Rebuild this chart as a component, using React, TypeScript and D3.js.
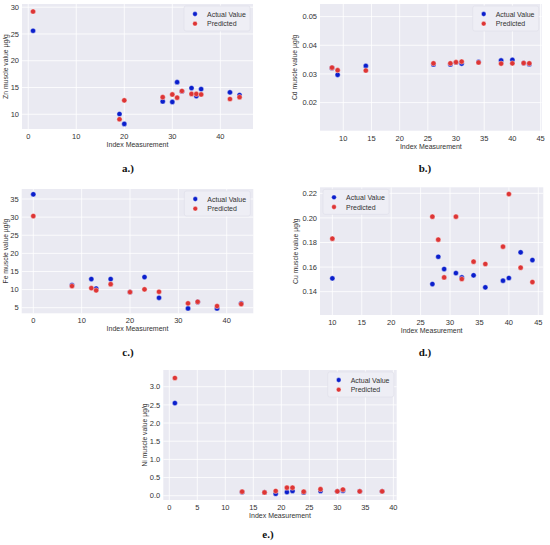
import * as d3 from "d3"

// index measurement + actual / predicted values per metal
const znIndex = [1, 19, 20, 28, 30, 31, 32, 34, 35, 36, 42, 44]
const znActual = [25.6, 10.05, 8.2, 12.4, 12.3, 16.0, 14.3, 14.9, 13.4, 14.7, 14.1, 13.6]
const znPredicted = [29.2, 9.07, 12.6, 13.2, 13.7, 13.1, 14.35, 13.8, 13.8, 13.7, 12.85, 13.2]

const cdIndex = [8, 9, 14, 26, 29, 30, 31, 34, 38, 40, 42, 43]
const cdActual = [0.0321, 0.0297, 0.0328, 0.0333, 0.0333, 0.034, 0.0336, 0.0342, 0.0347, 0.0349, 0.0338, 0.0334]
const cdPredicted = [0.0322, 0.0313, 0.0312, 0.0337, 0.0337, 0.0341, 0.0343, 0.034, 0.0336, 0.0337, 0.0338, 0.0337]

const feIndex = [0, 8, 12, 13, 16, 20, 23, 26, 32, 34, 38, 43]
const feActual = [36.3, 11.24, 12.9, 10.3, 12.9, 9.3, 13.45, 7.73, 4.8, 6.6, 4.8, 6.2]
const fePredicted = [30.3, 10.97, 10.4, 9.78, 11.5, 9.3, 10.06, 9.39, 6.2, 6.63, 5.44, 6.0]

const cuIndex = [10, 27, 28, 29, 31, 32, 34, 36, 39, 40, 42, 44]
const cuActual = [0.1508, 0.1462, 0.1684, 0.1584, 0.1551, 0.1516, 0.1533, 0.1435, 0.1489, 0.1511, 0.172, 0.1657]
const cuPredicted = [0.1831, 0.201, 0.1823, 0.1516, 0.201, 0.1503, 0.1644, 0.1625, 0.1766, 0.2194, 0.1595, 0.1478]

const niIndex = [1, 13, 17, 19, 21, 22, 24, 27, 30, 31, 34, 38]
const niActual = [2.55, 0.1, 0.09, 0.055, 0.1, 0.13, 0.09, 0.13, 0.12, 0.14, 0.12, 0.12]
const niPredicted = [3.24, 0.11, 0.09, 0.13, 0.22, 0.22, 0.11, 0.18, 0.12, 0.17, 0.12, 0.12]

const seriesNames = ["Actual Value", "Predicted"]
const colors = ["#0b1fcc", "#dd3535"]

const font = "'Liberation Sans', Arial, sans-serif"

interface PanelProps {
  left: number
  top: number
  right: number
  bottom: number
  xDomain: [number, number]
  yDomain: [number, number]
  xTicks: number[]
  yTicks: number[]
  yFormat: string
  yLabel: string
  yLabelX: number
  index: number[]
  actual: number[]
  predicted: number[]
  legendLeft?: boolean
  caption: string
  captionX: number
  captionY: number
}

function Panel(p: PanelProps) {
  const x = d3.scaleLinear().domain(p.xDomain).range([p.left, p.right])
  const y = d3.scaleLinear().domain(p.yDomain).range([p.bottom, p.top])
  const fmt = d3.format(p.yFormat)
  const cx = (p.left + p.right) / 2
  const cy = (p.top + p.bottom) / 2

  const lw = 66
  const lx = p.legendLeft ? p.left + 3 : p.right - lw - 3
  const ly = p.top + 2

  return (
    <g>
      <rect x={p.left} y={p.top} width={p.right - p.left} height={p.bottom - p.top} fill="#eaeaf2" />
      {p.xTicks.map(t => (
        <line key={"gx" + t} x1={x(t)} x2={x(t)} y1={p.top} y2={p.bottom} stroke="#fff" strokeWidth={0.8} />
      ))}
      {p.yTicks.map(t => (
        <line key={"gy" + t} x1={p.left} x2={p.right} y1={y(t)} y2={y(t)} stroke="#fff" strokeWidth={0.8} />
      ))}
      {p.xTicks.map(t => (
        <text key={"tx" + t} x={x(t)} y={p.bottom + 10} textAnchor="middle" fontSize={7.5} fill="#333" fontFamily={font}>
          {t}
        </text>
      ))}
      {p.yTicks.map(t => (
        <text key={"ty" + t} x={p.left - 3} y={y(t) + 2.7} textAnchor="end" fontSize={7.5} fill="#333" fontFamily={font}>
          {fmt(t)}
        </text>
      ))}
      <text x={cx} y={p.bottom + 18} textAnchor="middle" fontSize={7} fill="#333" fontFamily={font}>
        Index Measurement
      </text>
      <text
        transform={`translate(${p.yLabelX},${cy}) rotate(-90)`}
        textAnchor="middle"
        dominantBaseline="middle"
        fontSize={6.8}
        fill="#333"
        fontFamily={font}
      >
        {p.yLabel}
      </text>

      {p.index.map((d, i) => (
        <circle key={"a" + i} cx={x(d)} cy={y(p.actual[i])} r={2.6} fill={colors[0]} stroke="#fff" strokeWidth={0.4} />
      ))}
      {p.index.map((d, i) => (
        <circle key={"p" + i} cx={x(d)} cy={y(p.predicted[i])} r={2.6} fill={colors[1]} stroke="#fff" strokeWidth={0.4} />
      ))}

      <rect x={lx} y={ly} width={lw} height={25} rx={2} fill="#eeeef5" stroke="#dedee8" strokeWidth={0.6} />
      {seriesNames.map((name, i) => (
        <g key={name}>
          <circle cx={lx + 11} cy={ly + 8 + i * 9.7} r={2.4} fill={colors[i]} stroke="#fff" strokeWidth={0.4} />
          <text x={lx + 23} y={ly + 10.5 + i * 9.7} fontSize={7} fill="#333" fontFamily={font}>
            {name}
          </text>
        </g>
      ))}

      <text
        x={p.captionX}
        y={p.captionY}
        textAnchor="middle"
        fontSize={11}
        fontWeight="bold"
        fill="#111"
        fontFamily="'Liberation Serif', 'Times New Roman', serif"
      >
        {p.caption}
      </text>
    </g>
  )
}

export default function App() {
  return (
    <svg
      width={550}
      height={545}
      style={{ position: "absolute", left: 0, top: 0, background: "#fff" }}
    >
      <Panel
        left={22} top={4} right={253} bottom={129}
        xDomain={[-1.3, 46.8]} yDomain={[7.25, 30.6]}
        xTicks={[0, 10, 20, 30, 40]} yTicks={[10, 15, 20, 25, 30]} yFormat="d"
        yLabel="Zn muscle value µg/g" yLabelX={6}
        index={znIndex} actual={znActual} predicted={znPredicted}
        caption="a.)" captionX={128} captionY={172}
      />
      <Panel
        left={320} top={4} right={541.7} bottom={130.7}
        xDomain={[5.87, 45.2]} yDomain={[0.0102, 0.0544]}
        xTicks={[10, 15, 20, 25, 30, 35, 40, 45]} yTicks={[0.02, 0.03, 0.04, 0.05]} yFormat=".2f"
        yLabel="Cd muscle value µg/g" yLabelX={295}
        index={cdIndex} actual={cdActual} predicted={cdPredicted}
        caption="b.)" captionX={425} captionY={172}
      />
      <Panel
        left={21.7} top={189} right={253.3} bottom={313.3}
        xDomain={[-2.4, 45.5]} yDomain={[3.45, 37.76]}
        xTicks={[0, 10, 20, 30, 40]} yTicks={[5, 10, 15, 20, 25, 30, 35]} yFormat="d"
        yLabel="Fe muscle value µg/g" yLabelX={6}
        index={feIndex} actual={feActual} predicted={fePredicted}
        caption="c.)" captionX={128} captionY={356}
      />
      <Panel
        left={320} top={187.3} right={543.3} bottom={315}
        xDomain={[7.9, 45.85]} yDomain={[0.121, 0.2249]}
        xTicks={[10, 15, 20, 25, 30, 35, 40, 45]} yTicks={[0.14, 0.16, 0.18, 0.2, 0.22]} yFormat=".2f"
        yLabel="Cu muscle value µg/g" yLabelX={296.7}
        index={cuIndex} actual={cuActual} predicted={cuPredicted} legendLeft
        caption="d.)" captionX={425} captionY={356}
      />
      <Panel
        left={163.3} top={370} right={396.7} bottom={500}
        xDomain={[-1.07, 40.6]} yDomain={[-0.118, 3.46]}
        xTicks={[0, 5, 10, 15, 20, 25, 30, 35, 40]} yTicks={[0, 0.5, 1, 1.5, 2, 2.5, 3]} yFormat=".1f"
        yLabel="Ni muscle value µg/g" yLabelX={145}
        index={niIndex} actual={niActual} predicted={niPredicted}
        caption="e.)" captionX={268} captionY={538}
      />
    </svg>
  )
}
